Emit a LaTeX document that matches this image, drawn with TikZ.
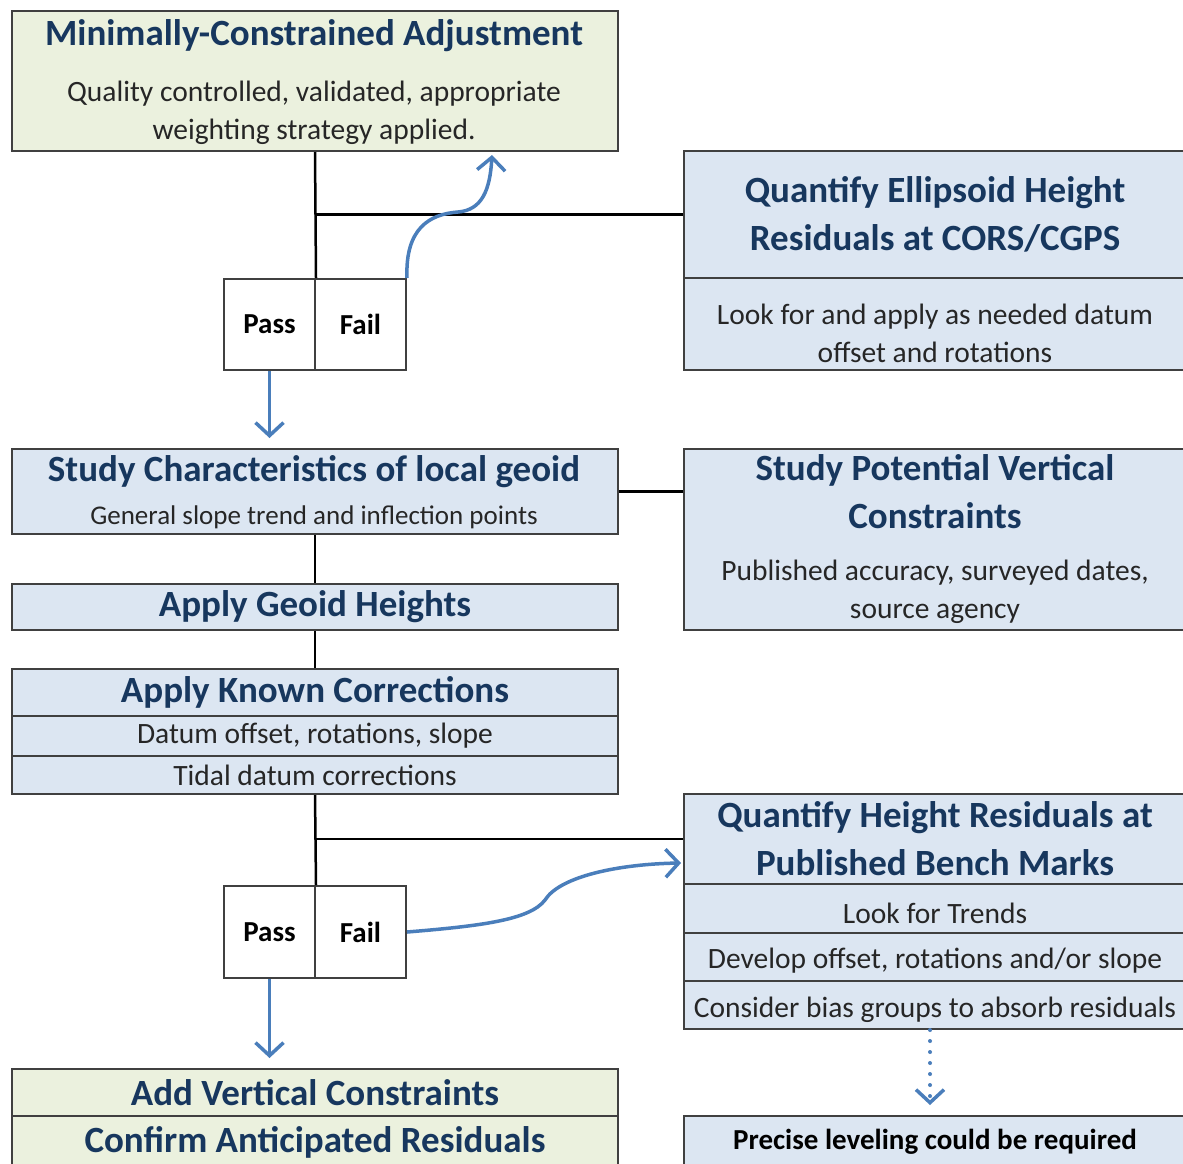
\documentclass[tikz,border=0pt]{standalone}
\usepackage{fontspec}
\setmainfont{Carlito}
\usetikzlibrary{arrows.meta}
\definecolor{boxgreen}{HTML}{EBF1DE}
\definecolor{boxblue}{HTML}{DCE6F2}
\definecolor{ttlblue}{HTML}{17375E}
\definecolor{flowblue}{HTML}{4A7EBB}
\definecolor{edgegray}{HTML}{404040}
\definecolor{txtgray}{HTML}{262626}
\tikzset{
  greenbox/.style={draw=edgegray, line width=2pt, fill=boxgreen, anchor=north west, inner sep=0pt},
  bluebox/.style={draw=edgegray, line width=2pt, fill=boxblue, anchor=north west, inner sep=0pt},
  plainbox/.style={draw=edgegray, line width=2pt, fill=white, anchor=north west, inner sep=0pt},
  ttl/.style={text=ttlblue, font=\fontsize{37}{48}\selectfont\bfseries, align=center},
  sub/.style={text=txtgray, font=\fontsize{29.5}{38}\selectfont, align=center},
  pf/.style={text=black, font=\fontsize{29}{32}\selectfont\bfseries},
  link/.style={draw=black, line width=2.5pt},
  flow/.style={draw=flowblue, line width=3.5pt, -{Straight Barb[length=13pt,width=28pt,line width=3.5pt]}}
}
\begin{document}
\begin{tikzpicture}[x=1pt,y=-1pt]
\useasboundingbox[fill=white] (0,0) rectangle (1183,1163);
% left column
\node[greenbox, minimum width=606pt, minimum height=140pt] (mca) at (11,10) {};
\node[ttl] (mcaT) at (314,36) {Minimally-Constrained Adjustment};
\node[sub] (mcaS) at (314,113) {Quality controlled, validated, appropriate\\weighting strategy applied.};
\node[plainbox, pf, minimum width=91pt, minimum height=91pt] (pass1) at (223,278) {Pass};
\node[plainbox, pf, minimum width=91pt, minimum height=91pt] (fail1) at (314,278) {Fail};
\node[bluebox, minimum width=606pt, minimum height=85pt] (geoid) at (11,448) {};
\node[ttl] (geoidT) at (314,472) {Study Characteristics of local geoid};
\node[sub, font=\fontsize{27}{30}\selectfont] (geoidS) at (314,517) {General slope trend and inflection points};
\node[bluebox, ttl, minimum width=606pt, minimum height=46pt] (agh) at (11,583) {Apply Geoid Heights};
\node[bluebox, ttl, minimum width=606pt, minimum height=47pt] (kc1) at (11,668) {Apply Known Corrections};
\node[bluebox, sub, minimum width=606pt, minimum height=40pt] (kc2) at (11,715) {Datum offset, rotations, slope};
\node[bluebox, sub, minimum width=606pt, minimum height=38pt] (kc3) at (11,755) {Tidal datum corrections};
\node[plainbox, pf, minimum width=91pt, minimum height=92pt] (pass2) at (223,885) {Pass};
\node[plainbox, pf, minimum width=91pt, minimum height=92pt] (fail2) at (314,885) {Fail};
\node[greenbox, ttl, minimum width=606pt, minimum height=47pt] (avc) at (11,1068) {Add Vertical Constraints};
\node[greenbox, ttl, minimum width=606pt, minimum height=52pt] (car) at (11,1115) {Confirm Anticipated Residuals};
% right column
\node[bluebox, ttl, minimum width=502pt, minimum height=127pt] (ell1) at (683,150) {Quantify Ellipsoid Height\\Residuals at CORS/CGPS};
\node[bluebox, minimum width=502pt, minimum height=92pt] (ell2) at (683,277) {};
\node[sub] (ell2T) at (935,333) {Look for and apply as needed datum\\offset and rotations};
\node[bluebox, minimum width=502pt, minimum height=181pt] (pvc) at (683,448) {};
\node[ttl] (pvcT) at (935,492) {Study Potential Vertical\\Constraints};
\node[sub] (pvcS) at (935,592) {Published accuracy, surveyed dates,\\source agency};
\node[bluebox, ttl, minimum width=502pt, minimum height=90pt] (hr1) at (683,793) {Quantify Height Residuals at\\Published Bench Marks};
\node[bluebox, minimum width=502pt, minimum height=49pt] (hr2) at (683,883) {};
\node[bluebox, minimum width=502pt, minimum height=48pt] (hr3) at (683,932) {};
\node[bluebox, minimum width=502pt, minimum height=48pt] (hr4) at (683,980) {};
\node[sub] (hr2T) at (935,913) {Look for Trends};
\node[sub] (hr3T) at (935,961) {Develop offset, rotations and/or slope};
\node[sub] (hr4T) at (935,1010) {Consider bias groups to absorb residuals};
\node[bluebox, pf, minimum width=502pt, minimum height=52pt] (plr) at (683,1115) {Precise leveling could be required};
\coordinate (retry) at (492,155);
\coordinate (hrIn) at (681,863);
% connectors
\draw[link] (mca.south) -- (pass1.north east);
\draw[link] (ell1.west) -- (ell1.west -| mca.south);
\draw[flow] (pass1.south) -- ([yshift=10pt]pass1.south |- geoid.north);
\draw[flow] (fail1.north east) .. controls (405,228) and (430,214) .. (458,212)
  .. controls (482,210) and (490,190) .. (retry);
\draw[link] (geoid.east) -- (geoid.east -| pvc.west);
\draw[link] (geoid.south) -- (agh.north);
\draw[link] (agh.south) -- (kc1.north);
\draw[link] (kc3.south) -- (pass2.north east);
\draw[link] (hr1.west) -- (hr1.west -| kc3.south);
\draw[flow] (pass2.south) -- ([yshift=10pt]pass2.south |- avc.north);
\draw[flow] (fail2.east) .. controls (480,926) and (530,920) .. (545,900)
  .. controls (560,876) and (620,864) .. (hrIn);
\draw[flow, dash pattern=on 0pt off 11pt, line cap=round, line width=4pt]
  ([xshift=-5pt]hr4.south) -- ([xshift=-5pt,yshift=10pt]plr.north);
\end{tikzpicture}
\end{document}
